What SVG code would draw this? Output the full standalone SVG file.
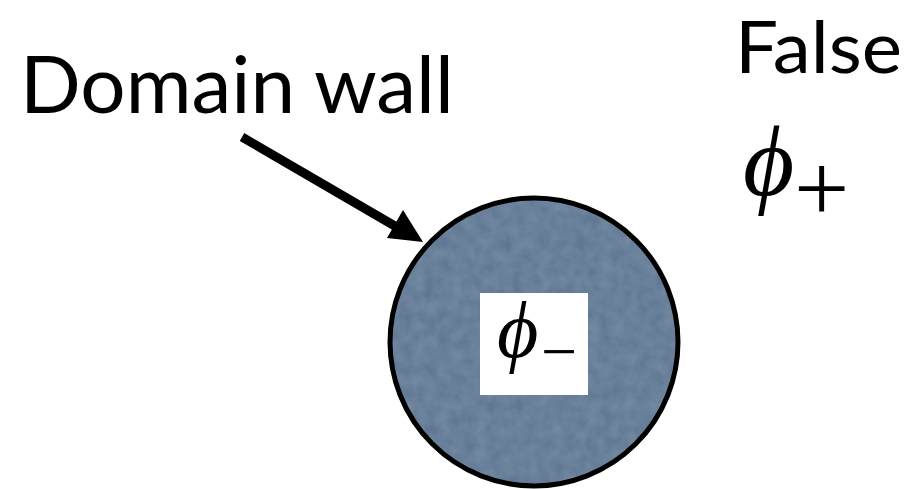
<svg xmlns="http://www.w3.org/2000/svg" width="920" height="489" viewBox="0 0 920 489">
  <defs>
    <style>
      .label { font-family: "Lato", "Open Sans", "Liberation Sans", sans-serif; fill: #000; }
      .phi { font-family: "Liberation Serif", "DejaVu Serif", serif; font-style: italic; fill: #000; }
      .sub { font-family: "Liberation Serif", "DejaVu Serif", serif; fill: #000; }
    </style>
    <filter id="grain" x="0" y="0" width="100%" height="100%">
      <feTurbulence type="fractalNoise" baseFrequency="0.08" numOctaves="3" seed="4" result="noise"/>
      <feColorMatrix in="noise" type="matrix" values="0 0 0 0 0.36  0 0 0 0 0.46  0 0 0 0 0.57  0 0 0 0.35 -0.05" result="tint"/>
      <feComposite in="tint" in2="SourceGraphic" operator="in" result="clip"/>
      <feMerge><feMergeNode in="SourceGraphic"/><feMergeNode in="clip"/></feMerge>
    </filter>
  </defs>
  <rect width="920" height="489" fill="#fff"/>

  <g id="false-vacuum">
    <text class="label" x="735" y="73" font-size="72" textLength="167" lengthAdjust="spacingAndGlyphs">False</text>
    <text class="phi" x="743" y="195" font-size="99">ϕ</text>
    <text class="sub" x="794" y="221" font-size="98">+</text>
  </g>

  <g id="bubble">
    <circle cx="534" cy="342" r="144" fill="#5e7793" stroke="none" filter="url(#grain)"/>
    <circle cx="534" cy="342" r="144" fill="none" stroke="#000" stroke-width="5"/>
    <rect x="480" y="293" width="108" height="102" fill="#fff"/>
    <text class="phi" x="497" y="357" font-size="80">ϕ</text>
    <text class="sub" x="541" y="373" font-size="64">−</text>
  </g>

  <g id="domain-wall-label">
    <text class="label" x="20" y="113" font-size="80">Domain wall</text>
  </g>

  <g id="connectors">
    <line x1="242" y1="137" x2="400" y2="229" stroke="#000" stroke-width="9"/>
    <polygon points="423,242 403,210 387,238" fill="#000"/>
  </g>
</svg>
